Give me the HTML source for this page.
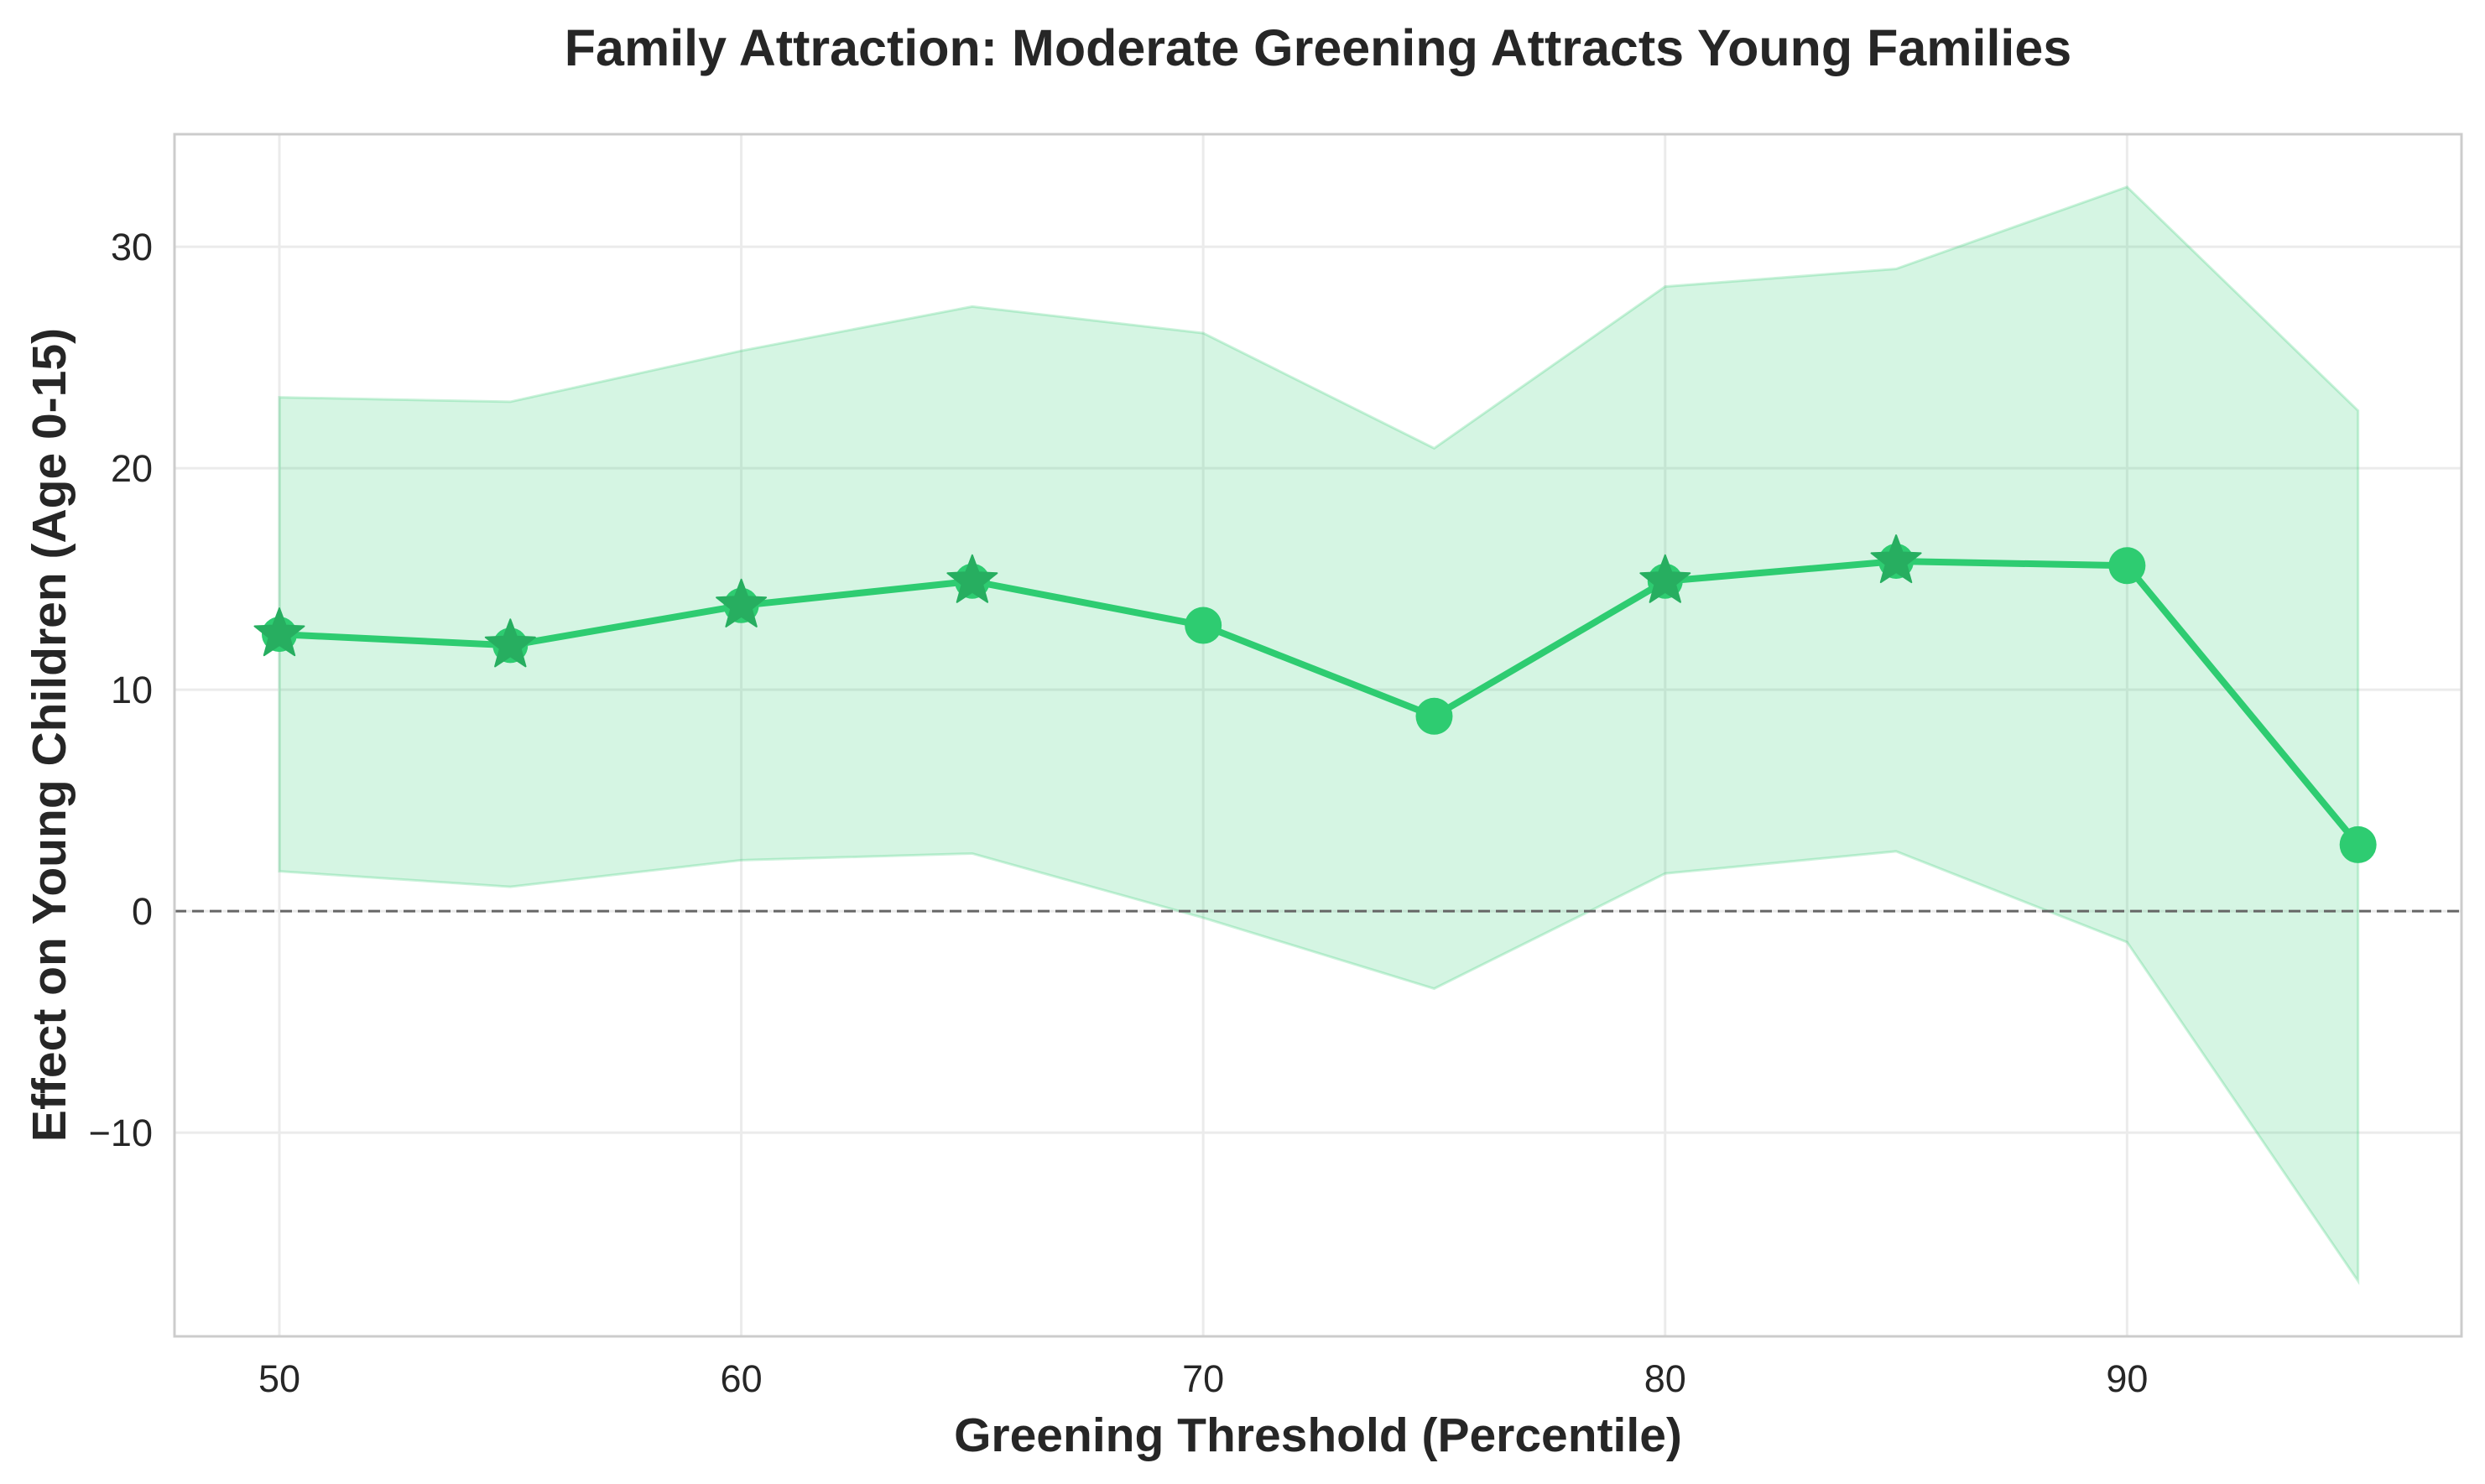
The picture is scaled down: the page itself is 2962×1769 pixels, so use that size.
<!DOCTYPE html>
<html><head><meta charset="utf-8"><style>
body{margin:0;background:#fff}
text{font-family:"Liberation Sans",Arial,sans-serif}
</style></head><body>
<svg id="chart" width="2962" height="1764" xmlns="http://www.w3.org/2000/svg">
<rect width="2962" height="1764" fill="#fff"/>
<text x="1571" y="78" font-size="61" font-weight="bold" text-anchor="middle" fill="#262626">Family Attraction: Moderate Greening Attracts Young Families</text>
<g id="grid"></g>
<g id="marks"></g>
<rect x="208" y="160" width="2726" height="1433" fill="none" stroke="#ccc" stroke-width="3"/>
<g id="ticks"></g>
<text x="1571" y="1730" font-size="57" font-weight="bold" text-anchor="middle" fill="#262626">Greening Threshold (Percentile)</text>
<text transform="translate(78,876) rotate(-90)" font-size="57" font-weight="bold" text-anchor="middle" fill="#262626">Effect on Young Children (Age 0-15)</text>
</svg>
<script>
const thresholds=[50,55,60,65,70,75,80,85,90,95];
const effects=[12.5,12.0,13.8,14.9,12.9,8.8,14.9,15.8,15.6,3.0];
const upperCI=[23.2,23.0,25.3,27.3,26.1,20.9,28.2,29.0,32.7,22.6];
const lowerCI=[1.8,1.1,2.3,2.6,-0.3,-3.5,1.7,2.7,-1.4,-16.7];
const significant=[true,true,true,true,false,false,true,true,false,false];
const xTicks=[50,60,70,80,90];
const yTicks=[-10,0,10,20,30];
const X0=208,X1=2934,Y0=160,Y1=1593,xmin=47.73,xmax=97.24,ymin=-19.2,ymax=35.08;
const sx=v=>X0+(v-xmin)/(xmax-xmin)*(X1-X0);
const sy=v=>Y1-(v-ymin)/(ymax-ymin)*(Y1-Y0);
const NS='http://www.w3.org/2000/svg';
function mk(tag,attrs,parent){const e=document.createElementNS(NS,tag);for(const k in attrs)e.setAttribute(k,attrs[k]);parent.appendChild(e);return e;}
const grid=document.getElementById('grid'),marks=document.getElementById('marks'),ticks=document.getElementById('ticks');
xTicks.forEach(t=>{
 const l=mk('line',{x1:sx(t),x2:sx(t),y1:Y0,y2:Y1,stroke:'#ebebeb','stroke-width':3},grid);
 
 
 const tx=mk('text',{x:sx(t),y:1659,'font-size':45,'text-anchor':'middle',fill:'#262626'},ticks);
 tx.textContent=t;
 
 
});
yTicks.forEach(t=>{
 const l=mk('line',{x1:X0,x2:X1,y1:sy(t),y2:sy(t),stroke:'#ebebeb','stroke-width':3},grid);
 
 
 const tx=mk('text',{x:182,y:sy(t)+16,'font-size':45,'text-anchor':'end',fill:'#262626'},ticks);
 tx.textContent=t<0?'\u2212'+Math.abs(t):t;
 
 
});
let pts=thresholds.map((t,i)=>sx(t)+','+sy(upperCI[i]));
for(let i=thresholds.length-1;i>=0;i--)pts.push(sx(thresholds[i])+','+sy(lowerCI[i]));
const band=mk('polygon',{points:pts.join(' '),fill:'#2ecc71','fill-opacity':0.2,stroke:'#2ecc71','stroke-opacity':0.25,'stroke-width':3},marks);


const zl=mk('line',{x1:X0,x2:X1,y1:sy(0),y2:sy(0),stroke:'#666','stroke-width':3,'stroke-dasharray':'14,7'},marks);


const line=mk('polyline',{points:thresholds.map((t,i)=>sx(t)+','+sy(effects[i])).join(' '),fill:'none',stroke:'#2ecc71','stroke-width':8,'stroke-linejoin':'round'},marks);


function starPts(cx,cy,R,r){const p=[];for(let k=0;k<10;k++){const a=-Math.PI/2+k*Math.PI/5,rr=k%2?r:R;p.push((cx+rr*Math.cos(a)).toFixed(1)+','+(cy+rr*Math.sin(a)).toFixed(1));}return p.join(' ');}
thresholds.forEach((t,i)=>{
 const c=mk('circle',{cx:sx(t),cy:sy(effects[i]),r:significant[i]?21:22,fill:'#2ecc71'},marks);
 
 
 if(significant[i]){
  const s=mk('polygon',{points:starPts(sx(t),sy(effects[i]),31,13),fill:'#27ae60','stroke-linejoin':'round',stroke:'#27ae60','stroke-width':2},marks);
  
  
 }
});
</script>
</body></html>
